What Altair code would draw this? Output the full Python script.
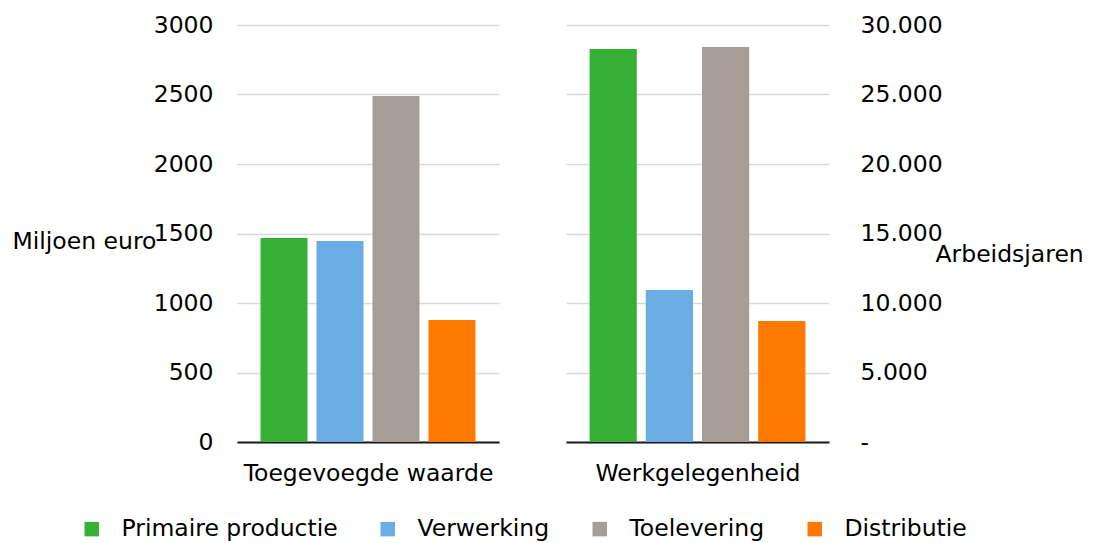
import altair as alt
import pandas as pd

series = ["Primaire productie", "Verwerking", "Toelevering", "Distributie"]
colors = ["#36b136", "#6aade4", "#a59d96", "#ff7900"]
toegevoegde_waarde = [1468, 1446, 2489, 878]
werkgelegenheid = [28270, 10935, 28420, 8705]
left_ticks = [0, 500, 1000, 1500, 2000, 2500, 3000]
right_ticks = [0, 5000, 10000, 15000, 20000, 25000, 30000]

FONT = "DejaVu Sans"
FS = 23.5

df1 = pd.DataFrame({"serie": series, "waarde": toegevoegde_waarde})
df2 = pd.DataFrame({"serie": series, "waarde": werkgelegenheid})

color = alt.Color(
    "serie:N",
    sort=series,
    scale=alt.Scale(domain=series, range=colors),
    legend=alt.Legend(
        title=None,
        orient="none",
        direction="horizontal",
        legendX=-157,
        legendY=492,
        symbolType="square",
        symbolSize=210,
        symbolStrokeWidth=0,
        labelFont=FONT,
        labelFontSize=FS,
        labelColor="#000000",
        labelOffset=18,
        labelLimit=0,
        columnPadding=38,
    ),
)

xscale = alt.Scale(paddingInner=0.16, paddingOuter=0.42)
noview = alt.ViewBackground(stroke="transparent", strokeWidth=0, strokeOpacity=0)


def xaxis(title):
    return alt.Axis(
        labels=False,
        ticks=False,
        domain=True,
        domainColor="#1a1a1a",
        domainWidth=2,
        grid=False,
        title=title,
        titleFont=FONT,
        titleFontSize=FS,
        titleFontWeight="normal",
        titleColor="#000000",
        titlePadding=19,
    )


left = alt.Chart(df1).mark_bar().encode(
    x=alt.X("serie:N", sort=series, scale=xscale, axis=xaxis("Toegevoegde waarde")),
    y=alt.Y(
        "waarde:Q",
        scale=alt.Scale(domain=[0, 3000], nice=False),
        axis=alt.Axis(
            values=left_ticks,
            format="d",
            title="Miljoen euro",
            titleAngle=0,
            titleX=-225,
            titleY=216,
            titleAlign="left",
            titleBaseline="middle",
            titleFont=FONT,
            titleFontSize=FS,
            titleFontWeight="normal",
            titleColor="#000000",
            labelFont=FONT,
            labelFontSize=FS,
            labelColor="#000000",
            labelPadding=24,
            ticks=False,
            domain=False,
            gridColor="#d9d9d9",
            gridWidth=1.5,
        ),
    ),
    color=color,
).properties(width=262, height=417, view=noview)

right = alt.Chart(df2).mark_bar().encode(
    x=alt.X("serie:N", sort=series, scale=xscale, axis=xaxis("Werkgelegenheid")),
    y=alt.Y(
        "waarde:Q",
        scale=alt.Scale(domain=[0, 30000], nice=False),
        axis=alt.Axis(
            orient="right",
            values=right_ticks,
            labelExpr="datum.value == 0 ? '-' : replace(format(datum.value, ','), ',', '.')",
            title="Arbeidsjaren",
            titleAngle=0,
            titleX=106,
            titleY=229,
            titleAlign="left",
            titleBaseline="middle",
            titleFont=FONT,
            titleFontSize=FS,
            titleFontWeight="normal",
            titleColor="#000000",
            labelFont=FONT,
            labelFontSize=FS,
            labelColor="#000000",
            labelPadding=31,
            ticks=False,
            domain=False,
            gridColor="#d9d9d9",
            gridWidth=1.5,
        ),
    ),
    color=color,
).properties(width=263, height=417, view=noview)

chart = (
    alt.hconcat(left, right, spacing=67)
    .resolve_scale(y="independent")
    .properties(padding={"left": 4, "top": 5, "right": 0, "bottom": 0})
    .configure_view(stroke="transparent", strokeWidth=0)
    .configure(background="#ffffff")
)

chart.save("out.html", embed_options={"renderer": "svg", "actions": False})
